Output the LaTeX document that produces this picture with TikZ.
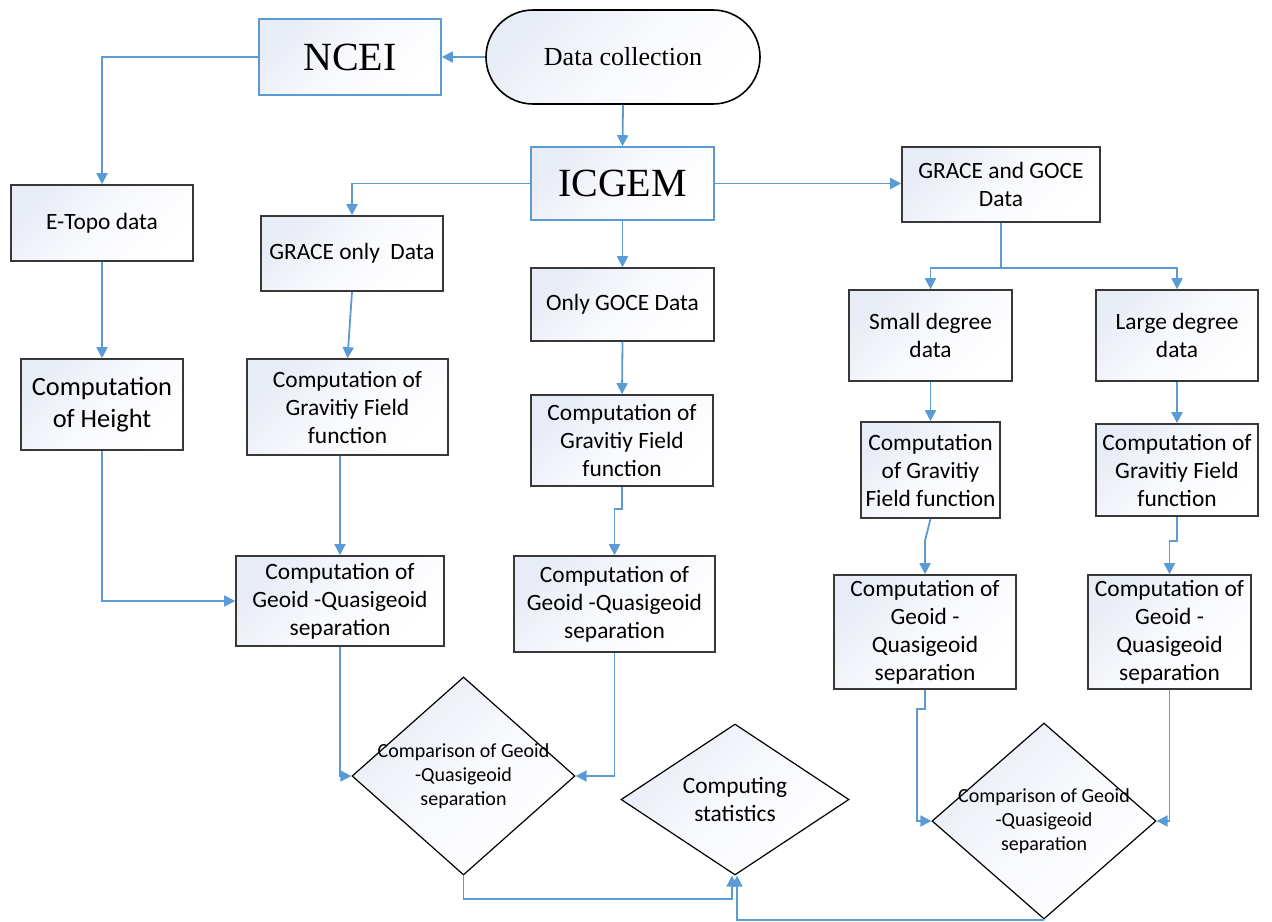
\documentclass[tikz,border=0pt]{standalone}
\usepackage{fontspec}
\setmainfont{Carlito}
\newfontfamily\timesfont{Liberation Serif}
\usetikzlibrary{shapes.geometric, arrows.meta}
\definecolor{lineblue}{HTML}{5B9BD5}
\definecolor{boxfill}{HTML}{E8ECF6}
\definecolor{boxedge}{HTML}{383838}

\begin{document}
\begin{tikzpicture}[x=0.5pt, y=-0.5pt,
  box/.style={draw=boxedge, line width=0.8pt, rectangle, align=center, inner sep=0pt,
    top color=boxfill, bottom color=white, middle color=white!70!boxfill, shading angle=45,
    font=\fontsize{11.7}{14}\selectfont},
  bluebox/.style={box, draw=lineblue, font=\timesfont\fontsize{20}{24}\selectfont},
  term/.style={box, draw=black, rounded corners=23.5pt, font=\timesfont\fontsize{13}{16}\selectfont},
  decision/.style={draw=black, line width=0.6pt, diamond, inner sep=0pt,
    top color=boxfill, bottom color=white, middle color=white!70!boxfill, shading angle=45},
  dtext/.style={align=center, font=\fontsize{10}{12}\selectfont},
  link/.style={draw=lineblue, line width=0.9pt},
  flow/.style={link, arrows=-{Triangle[length=5.5pt, width=5.5pt]}}]
\useasboundingbox (0,0) rectangle (1272,921);

\node (ncei)[bluebox, minimum width=91pt, minimum height=38pt] at (350,57) {NCEI};
\node (collect)[term, minimum width=137pt, minimum height=47pt] at (623,57) {Data collection};
\node (icgem)[bluebox, minimum width=91.5pt, minimum height=36.5pt] at (622.5,183.5) {ICGEM};
\node (both)[box, minimum width=99pt, minimum height=37.5pt] at (1001,184.5) {GRACE and GOCE\\Data};
\node (etopo)[box, minimum width=91pt, minimum height=38pt] at (102,223) {E-Topo data};
\node (graceonly)[box, minimum width=91pt, minimum height=37.5pt] at (352,253.5) {GRACE only\ \ Data};
\node (goceonly)[box, minimum width=91.5pt, minimum height=36.5pt] at (622.5,304.5) {Only GOCE Data};
\node (small)[box, minimum width=81.5pt, minimum height=45.5pt] at (930.5,335.5) {Small degree\\data};
\node (large)[box, minimum width=81pt, minimum height=45.5pt] at (1177,335.5) {Large degree\\data};
\node (height)[box, minimum width=81pt, minimum height=45.5pt, font=\fontsize{13.2}{16}\selectfont] at (102,404.5) {Computation\\of Height};
\node (gfgrace)[box, minimum width=100.5pt, minimum height=48pt] at (347.5,407) {Computation of\\Gravitiy Field\\function};
\node (gfgoce)[box, minimum width=91pt, minimum height=45.5pt] at (622,440.5) {Computation of\\Gravitiy Field\\function};
\node (gfsmall)[box, minimum width=69.5pt, minimum height=48pt] at (930.5,470) {Computation\\of Gravitiy\\Field function};
\node (gflarge)[box, minimum width=81pt, minimum height=46pt] at (1177,470) {Computation of\\Gravitiy Field\\function};
\node (geograce)[box, minimum width=104pt, minimum height=45pt] at (340,601) {Computation of\\Geoid -Quasigeoid\\separation};
\node (geogoce)[box, minimum width=100.5pt, minimum height=48pt] at (614.5,604) {Computation of\\Geoid -Quasigeoid\\separation};
\node (geosmall)[box, minimum width=91pt, minimum height=57pt] at (925,632) {Computation of\\Geoid -\\Quasigeoid\\separation};
\node (geolarge)[box, minimum width=81.5pt, minimum height=57pt] at (1169.5,632) {Computation of\\Geoid -\\Quasigeoid\\separation};
\node (cmp1)[decision, minimum width=111.5pt, minimum height=99pt,
  label={[dtext]center:Comparison of Geoid\\-Quasigeoid\\separation}] at (463.5,776) {};
\node (stats)[decision, minimum width=114pt, minimum height=75.5pt,
  label={[dtext, font=\fontsize{11.7}{14}\selectfont]center:Computing\\statistics}] at (735,799.5) {};
\node (cmp2)[decision, minimum width=112pt, minimum height=98pt,
  label={[dtext]center:Comparison of Geoid\\-Quasigeoid\\separation}] at (1044,821) {};
\coordinate (split) at (1001,268);

% top part
\draw[flow] (collect) -- (ncei);
\draw[flow] (ncei.west) -| (etopo.north);
\draw[flow] (collect.south) -- (icgem.north);
\draw[flow] (icgem.west) -| (graceonly.north);
\draw[flow] (icgem.east) -- (icgem.east -| both.west);
\draw[flow] (icgem.south) -- (goceonly.north);
\draw[link] (both.south) -- (split);
\draw[flow] (split) -| (small.north);
\draw[flow] (split) -| (large.north);
% columns
\draw[flow] (etopo.south) -- (height.north);
\draw[flow] (graceonly.south) -- (gfgrace.north);
\draw[flow] (goceonly.south) -- (gfgoce.north);
\draw[flow] (small.south) -- (gfsmall.north);
\draw[flow] (large.south) -- (gflarge.north);
\draw[flow] (height.south) |- (geograce.west);
\draw[flow] (gfgrace.south -| geograce.north) -- (geograce.north);
\draw[flow] (gfgoce.south) -- ++(0,22) -| (geogoce.north);
\draw[flow] (gfsmall.south) -- ++(-5.5,22) -- (geosmall.north);
\draw[flow] (gflarge.south) -- ++(0,24) -| (geolarge.north);
% comparisons
\draw[flow] (geograce.south) |- (cmp1.west);
\draw[flow] (geogoce.south) |- (cmp1.east);
\draw[flow] (geosmall.south) -- ++(0,19) -- ++(-8,0) |- (cmp2.west);
\draw[flow] (geolarge.south) |- (cmp2.east);
\draw[flow] (cmp1.south) -- ++(0,23) -| ([xshift=-1.5pt]stats.south);
\draw[flow] (cmp2.south) -| ([xshift=1pt]stats.south);
\end{tikzpicture}
\end{document}
